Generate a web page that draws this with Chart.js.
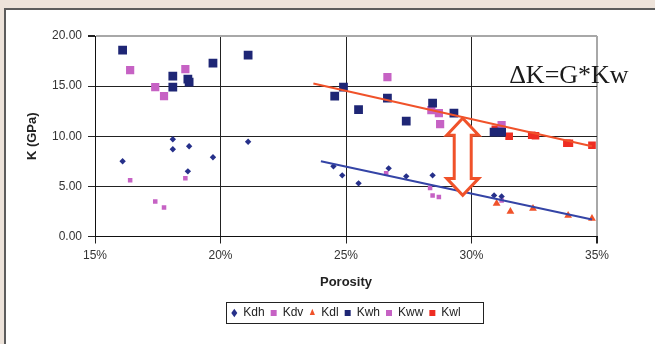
<!DOCTYPE html>
<html>
<head>
<meta charset="utf-8">
<script src="https://cdn.jsdelivr.net/npm/chart.js@4.4.1/dist/chart.umd.min.js"></script>
<style>
  body { margin: 0; background: #ede3da; width: 655px; height: 344px; overflow: hidden; position: relative; }
  #panel { position: absolute; left: 4px; top: 8px; right: 0; bottom: 0; background: #fff;
           border-top: 2px solid #5c5c5c; border-left: 2px solid #5c5c5c; }
  #chart { position: absolute; left: 0; top: 0; }
</style>
</head>
<body>
<div id="panel"></div>
<canvas id="chart" width="655" height="344"></canvas>
<script>
// porosity in %, K in GPa
const kdhX = [16.1, 18.1, 18.1, 18.75, 18.7, 19.7, 21.1, 24.5, 24.85, 25.5, 26.7, 27.4, 28.45, 30.9, 31.2];
const kdhY = [7.5, 9.7, 8.7, 9.0, 6.5, 7.9, 9.45, 7.0, 6.1, 5.3, 6.8, 6.0, 6.1, 4.1, 4.0];

const kdvX = [16.4, 17.4, 17.75, 18.6, 26.6, 28.35, 28.45, 28.7, 31.2];
const kdvY = [5.6, 3.5, 2.9, 5.8, 6.3, 4.85, 4.1, 3.95, 3.6];

const kdlX = [31.0, 31.55, 32.45, 33.85, 34.8];
const kdlY = [3.3, 2.5, 2.8, 2.1, 1.8];

const kwhX = [16.1, 18.1, 18.1, 18.7, 18.75, 19.7, 21.1, 24.55, 24.9, 25.5, 26.65, 27.4, 28.45, 29.3, 30.9, 31.2];
const kwhY = [18.6, 16.0, 14.9, 15.7, 15.4, 17.3, 18.1, 14.0, 14.9, 12.65, 13.8, 11.5, 13.3, 12.3, 10.4, 10.4];

const kwwX = [16.4, 17.4, 17.75, 18.6, 26.65, 28.4, 28.7, 28.75, 31.2];
const kwwY = [16.6, 14.9, 14.0, 16.7, 15.9, 12.6, 12.3, 11.2, 11.1];

const kwlX = [30.95, 31.5, 32.4, 32.55, 33.8, 33.9, 34.8];
const kwlY = [10.7, 10.0, 10.1, 10.05, 9.3, 9.3, 9.1];

// trend lines (end points)
const kwTrendX = [23.7, 34.8];
const kwTrendY = [15.26, 9.0];
const kdTrendX = [24.0, 34.8];
const kdTrendY = [7.5, 1.7];

// double arrow: porosity, top K, bottom K
const arrowX = 29.65;
const arrowTop = 11.8;
const arrowBottom = 4.1;

const noteText = 'ΔK=G*Kw';
const notePos = [31.5, 15.3];

const xTicks = [15, 20, 25, 30, 35];
const yTicks = [0, 5, 10, 15, 20];

function pts(xs, ys) {
    return xs.map((x, i) => ({x: x, y: ys[i]}));
}

const navy = '#1e2675';
const pink = '#c662c4';
const red = '#ee2d22';
const orange = '#f0522a';

const data = {
    datasets: [
        { label: 'kwTrend', data: pts(kwTrendX, kwTrendY), showLine: true, borderColor: orange, borderWidth: 2, pointRadius: 0, order: -1 },
        { label: 'kdTrend', data: pts(kdTrendX, kdTrendY), showLine: true, borderColor: '#3444a6', borderWidth: 2, pointRadius: 0, order: -1 },
        { label: 'Kdh', data: pts(kdhX, kdhY), pointStyle: 'rectRot', pointRadius: 3.2, backgroundColor: '#26308a', borderColor: '#26308a', borderWidth: 0 },
        { label: 'Kdv', data: pts(kdvX, kdvY), pointStyle: 'rect', pointRadius: 3.2, backgroundColor: pink, borderColor: pink, borderWidth: 0 },
        { label: 'Kdl', data: pts(kdlX, kdlY), pointStyle: 'triangle', pointRadius: 4.5, backgroundColor: orange, borderColor: orange, borderWidth: 0 },
        { label: 'Kwh', data: pts(kwhX, kwhY), pointStyle: 'rect', pointRadius: 6.2, backgroundColor: navy, borderColor: navy, borderWidth: 0 },
        { label: 'Kww', data: pts(kwwX, kwwY), pointStyle: 'rect', pointRadius: 5.8, backgroundColor: pink, borderColor: pink, borderWidth: 0 },
        { label: 'Kwl', data: pts(kwlX, kwlY), pointStyle: 'rect', pointRadius: 5.4, backgroundColor: red, borderColor: red, borderWidth: 0 }
    ]
};

// hollow double arrow + text note + legend frame
const extras = {
    id: 'extras',
    afterDatasetsDraw(chart) {
        const ctx = chart.ctx;
        const xs = chart.scales.x, ys = chart.scales.y;
        const cx = xs.getPixelForValue(arrowX);
        const t = ys.getPixelForValue(arrowTop);
        const b = ys.getPixelForValue(arrowBottom);
        const hh = 17, hw = 16, sw = 8.5;
        ctx.save();
        ctx.beginPath();
        ctx.moveTo(cx, t);
        ctx.lineTo(cx + hw, t + hh);
        ctx.lineTo(cx + sw, t + hh);
        ctx.lineTo(cx + sw, b - hh);
        ctx.lineTo(cx + hw, b - hh);
        ctx.lineTo(cx, b);
        ctx.lineTo(cx - hw, b - hh);
        ctx.lineTo(cx - sw, b - hh);
        ctx.lineTo(cx - sw, t + hh);
        ctx.lineTo(cx - hw, t + hh);
        ctx.closePath();
        ctx.fillStyle = '#fff';
        ctx.fill();
        ctx.lineWidth = 3;
        ctx.lineJoin = 'miter';
        ctx.strokeStyle = orange;
        ctx.stroke();
        ctx.restore();
    },
    afterDraw(chart) {
        const ctx = chart.ctx;
        const xs = chart.scales.x, ys = chart.scales.y;
        ctx.save();
        ctx.font = '26px "Liberation Serif", "Times New Roman", serif';
        ctx.fillStyle = '#1a1a1a';
        ctx.textBaseline = 'alphabetic';
        ctx.textAlign = 'left';
        ctx.fillText(noteText, xs.getPixelForValue(notePos[0]), ys.getPixelForValue(notePos[1]));

        const boxes = chart.legend.legendHitBoxes;
        if (boxes && boxes.length) {
            const first = boxes[0], last = boxes[boxes.length - 1];
            const mid = first.top + first.height / 2;
            const l = Math.round(first.left - 5) + 0.5;
            const r = Math.round(last.left + last.width + 22) + 0.5;
            ctx.strokeStyle = '#222';
            ctx.lineWidth = 1;
            ctx.strokeRect(l, Math.round(mid - 11) + 0.5, r - l, 21);
        }
        ctx.restore();
    }
};

const font = '"Liberation Sans", Arial, sans-serif';

const config = {
    type: 'scatter',
    data: data,
    options: {
        responsive: false,
        animation: false,
        layout: { padding: { left: 0, top: 36, right: 58, bottom: 15 } },
        plugins: {
            tooltip: { enabled: false },
            legend: {
                position: 'bottom',
                fullSize: false,
                labels: {
                    filter: item => item.text.indexOf('Trend') < 0,
                    usePointStyle: true,
                    boxHeight: 6,
                    pointStyleWidth: 6,
                    padding: 6,
                    color: '#222',
                    font: { family: font, size: 12 }
                }
            }
        },
        scales: {
            x: {
                type: 'linear',
                min: 15, max: 35,
                afterBuildTicks: s => { s.ticks = xTicks.map(v => ({value: v})); },
                afterFit: s => { s.height = 64.5; },
                ticks: { callback: v => v + '%', color: '#333', padding: 5, font: { family: font, size: 12 } },
                grid: {
                    color: c => (c.tick && c.tick.value === 35) ? '#a8a8a8' : '#222',
                    lineWidth: c => (c.tick && c.tick.value === 35) ? 2 : 1,
                    tickColor: '#222',
                    tickLength: 7
                },
                border: { color: '#111', width: 1 },
                title: { display: true, text: 'Porosity', color: '#222', padding: { top: 0, bottom: 11 },
                         font: { family: font, size: 13, weight: 'bold' } }
            },
            y: {
                min: 0, max: 20,
                afterBuildTicks: s => { s.ticks = yTicks.map(v => ({value: v})); },
                afterFit: s => { s.width = 95; },
                ticks: { callback: v => v.toFixed(2), color: '#333', padding: 6, font: { family: font, size: 12 } },
                grid: {
                    color: c => (c.tick && c.tick.value === 20) ? '#a8a8a8' : '#222',
                    lineWidth: c => (c.tick && c.tick.value === 20) ? 2 : 1,
                    tickColor: '#222',
                    tickLength: 7
                },
                border: { color: '#111', width: 1 },
                title: { display: true, text: 'K (GPa)', color: '#222', padding: { top: 25, bottom: 0 },
                         font: { family: font, size: 13, weight: 'bold' } }
            }
        }
    },
    plugins: [extras]
};

const chart = new Chart(document.getElementById('chart'), config);
</script>
</body>
</html>
